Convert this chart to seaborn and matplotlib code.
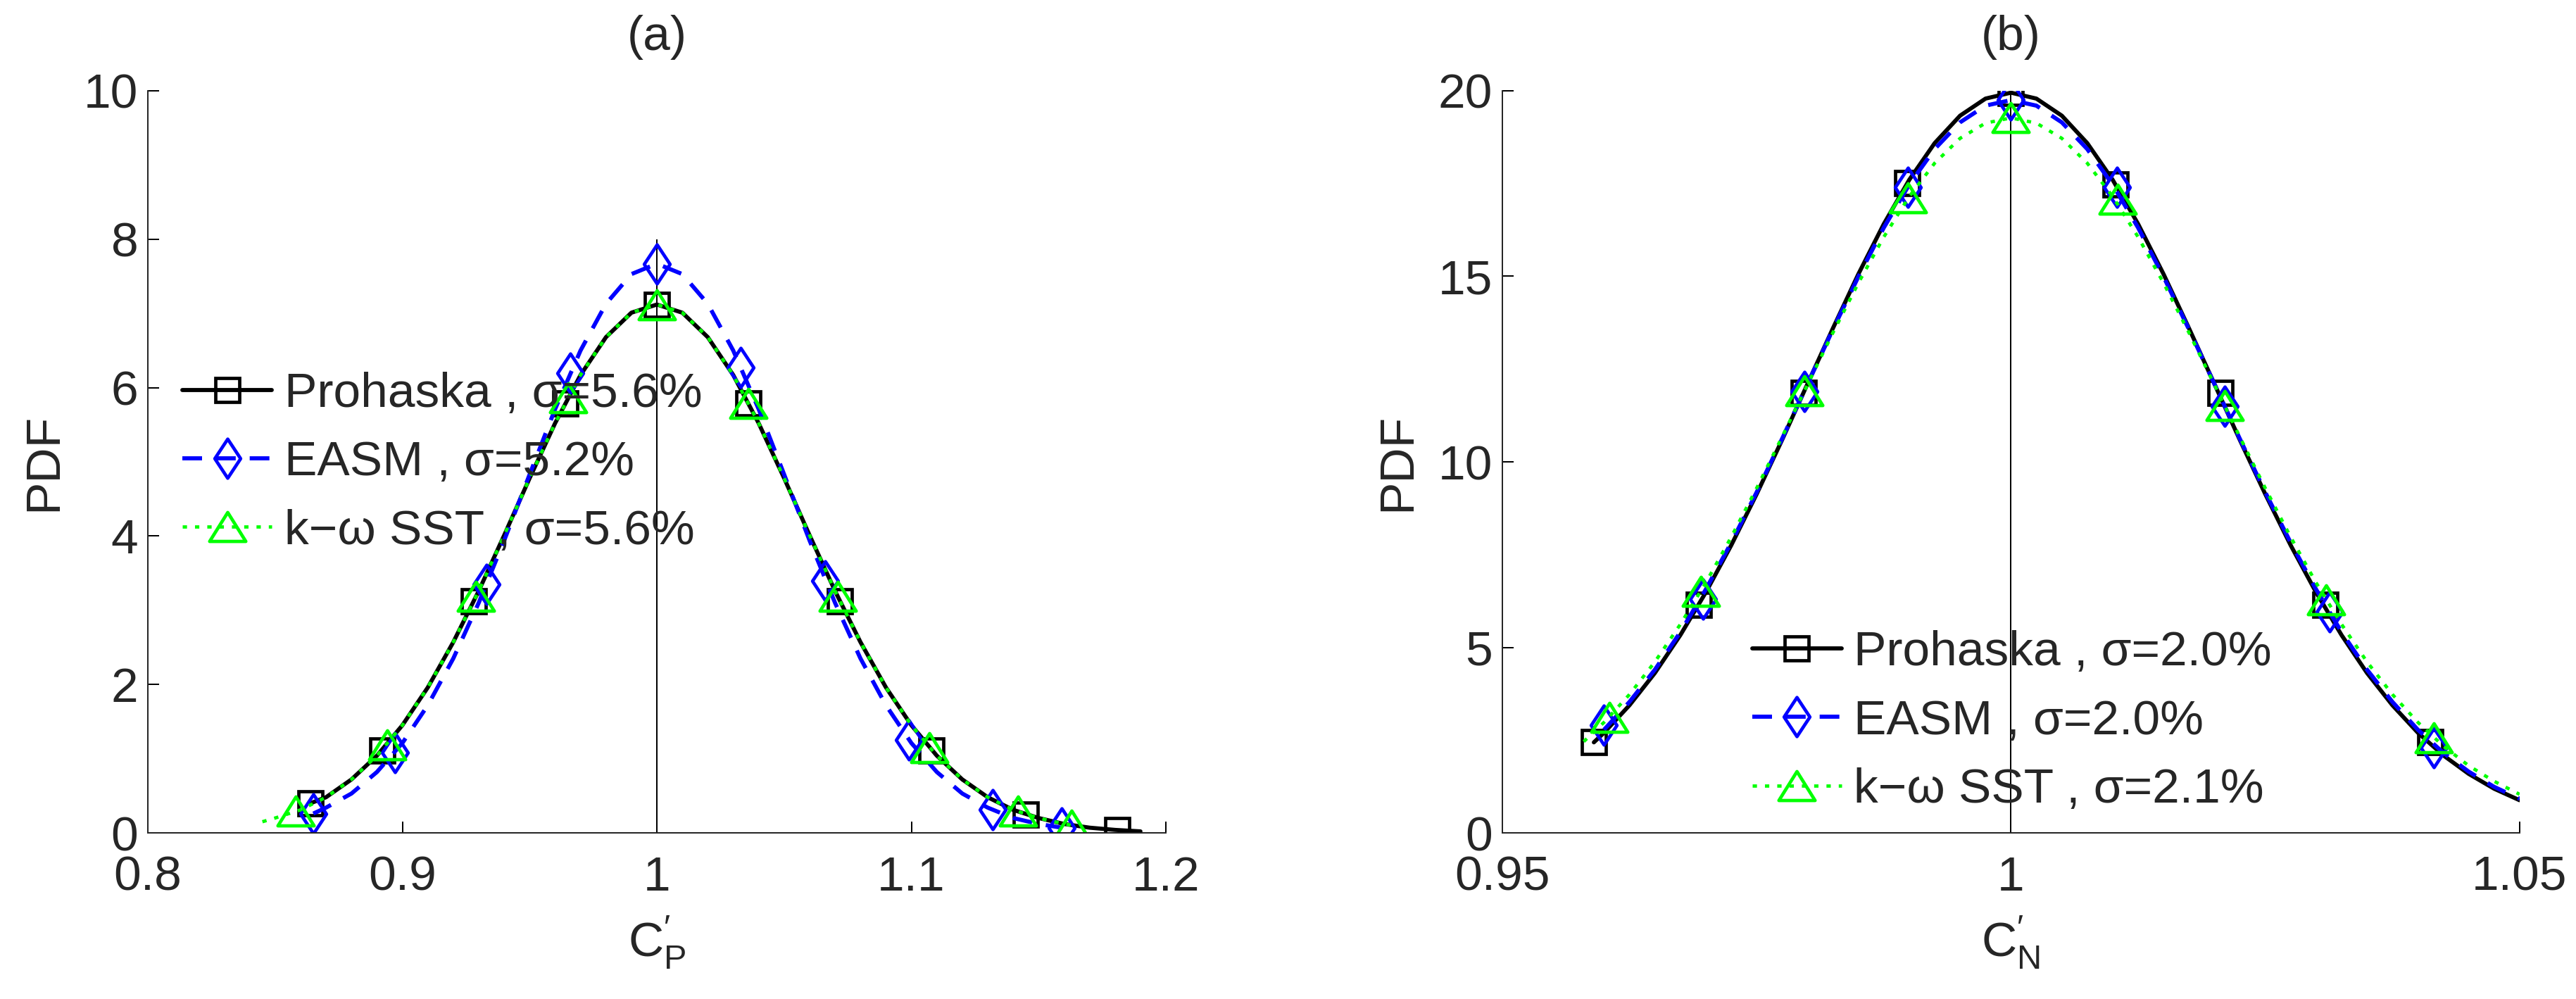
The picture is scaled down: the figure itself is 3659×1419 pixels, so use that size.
import matplotlib
matplotlib.use('Agg')
import matplotlib.pyplot as plt
import seaborn as sns
from matplotlib.path import Path
from matplotlib.lines import Line2D

# ---------------- panel (a): C'_P ----------------
pro_a_x = [0.864, 0.87, 0.88, 0.89, 0.90, 0.91, 0.92, 0.93, 0.94, 0.95, 0.96, 0.97, 0.98, 0.99, 1.00,
           1.01, 1.02, 1.03, 1.04, 1.05, 1.06, 1.07, 1.08, 1.09, 1.10, 1.11, 1.12, 1.13, 1.14, 1.15,
           1.16, 1.17, 1.18, 1.19]
pro_a_y = [0.40, 0.48, 0.72, 1.04, 1.45, 1.96, 2.57, 3.26, 4.01, 4.78, 5.52, 6.17, 6.68, 7.01, 7.12,
           7.01, 6.68, 6.17, 5.52, 4.78, 4.01, 3.26, 2.57, 1.96, 1.45, 1.04, 0.72, 0.48, 0.31, 0.20,
           0.12, 0.07, 0.04, 0.02]
pro_a_mx = [0.864, 0.892, 0.928, 0.964, 1.0, 1.036, 1.072, 1.108, 1.145, 1.181]
pro_a_my = [0.40, 1.11, 3.12, 5.79, 7.12, 5.79, 3.12, 1.11, 0.25, 0.04]

easm_a_x = [0.865, 0.87, 0.88, 0.89, 0.90, 0.91, 0.92, 0.93, 0.94, 0.95, 0.96, 0.97, 0.98, 0.99, 1.00,
            1.01, 1.02, 1.03, 1.04, 1.05, 1.06, 1.07, 1.08, 1.09, 1.10, 1.11, 1.12, 1.13, 1.14, 1.15,
            1.159]
easm_a_y = [0.26, 0.34, 0.53, 0.82, 1.21, 1.72, 2.35, 3.10, 3.94, 4.83, 5.71, 6.50, 7.13, 7.53, 7.67,
            7.53, 7.13, 6.50, 5.71, 4.83, 3.94, 3.10, 2.35, 1.72, 1.21, 0.82, 0.53, 0.34, 0.20, 0.12,
            0.07]
easm_a_mx = [0.865, 0.897, 0.933, 0.966, 1.0, 1.033, 1.066, 1.099, 1.132, 1.159]
easm_a_my = [0.26, 1.08, 3.35, 6.20, 7.67, 6.27, 3.40, 1.25, 0.31, 0.07]

sst_a_x = [0.845, 0.85, 0.86, 0.87, 0.88, 0.89, 0.90, 0.91, 0.92, 0.93, 0.94, 0.95, 0.96, 0.97, 0.98,
           0.99, 1.00, 1.01, 1.02, 1.03, 1.04, 1.05, 1.06, 1.07, 1.08, 1.09, 1.10, 1.11, 1.12, 1.13,
           1.14, 1.15, 1.16, 1.165]
sst_a_y = [0.15, 0.20, 0.31, 0.48, 0.72, 1.04, 1.45, 1.96, 2.57, 3.26, 4.01, 4.78, 5.52, 6.17, 6.68,
           7.01, 7.12, 7.01, 6.68, 6.17, 5.52, 4.78, 4.01, 3.26, 2.57, 1.96, 1.45, 1.04, 0.72, 0.48,
           0.31, 0.20, 0.12, 0.09]
sst_a_mx = [0.858, 0.894, 0.929, 0.965, 1.0, 1.036, 1.071, 1.107, 1.142, 1.163]
sst_a_my = [0.29, 1.19, 3.19, 5.86, 7.12, 5.79, 3.19, 1.15, 0.29, 0.10]

labels_a = ['Prohaska , σ=5.6%', 'EASM , σ=5.2%', 'k−ω SST , σ=5.6%']

# ---------------- panel (b): C'_N ----------------
pro_b_x = [0.959, 0.96, 0.9625, 0.965, 0.9675, 0.97, 0.9725, 0.975, 0.9775, 0.98, 0.9825, 0.985,
           0.9875, 0.99, 0.9925, 0.995, 0.9975, 1.0, 1.0025, 1.005, 1.0075, 1.01, 1.0125, 1.015,
           1.0175, 1.02, 1.0225, 1.025, 1.0275, 1.03, 1.0325, 1.035, 1.0375, 1.04, 1.0425, 1.045,
           1.0475, 1.05]
pro_b_y = [2.44, 2.70, 3.44, 4.31, 5.33, 6.48, 7.75, 9.13, 10.59, 12.10, 13.60, 15.06,
           16.41, 17.60, 18.59, 19.33, 19.79, 19.95, 19.79, 19.33, 18.59, 17.60, 16.41, 15.06,
           13.60, 12.10, 10.59, 9.13, 7.75, 6.48, 5.33, 4.31, 3.44, 2.70, 2.09, 1.59,
           1.19, 0.88]
pro_b_mx = [0.959, 0.9693, 0.9796, 0.9898, 1.0, 1.0103, 1.0206, 1.0309, 1.0412]
pro_b_my = [2.44, 6.14, 11.86, 17.52, 19.95, 17.48, 11.86, 6.14, 2.44]

easm_b_x = [0.96, 0.9625, 0.965, 0.9675, 0.97, 0.9725, 0.975, 0.9775, 0.98, 0.9825, 0.985,
            0.9875, 0.99, 0.9925, 0.995, 0.9975, 1.0, 1.0025, 1.005, 1.0075, 1.01, 1.0125, 1.015,
            1.0175, 1.02, 1.0225, 1.025, 1.0275, 1.03, 1.0325, 1.035, 1.0375, 1.04, 1.0425, 1.045,
            1.0475, 1.05]
easm_b_y = [2.78, 3.53, 4.40, 5.41, 6.56, 7.82, 9.18, 10.62, 12.10, 13.57, 14.99,
            16.31, 17.47, 18.43, 19.15, 19.60, 19.75, 19.60, 19.15, 18.43, 17.47, 16.31, 14.99,
            13.57, 12.10, 10.62, 9.18, 7.82, 6.56, 5.41, 4.40, 3.53, 2.78, 2.16, 1.65,
            1.24, 0.92]
easm_b_mx = [0.96, 0.9697, 0.9797, 0.9899, 1.0, 1.0104, 1.021, 1.0313, 1.0416]
easm_b_my = [2.90, 6.30, 11.90, 17.40, 19.75, 17.40, 11.50, 5.95, 2.30]

sst_b_x = [0.958, 0.96, 0.9625, 0.965, 0.9675, 0.97, 0.9725, 0.975, 0.9775, 0.98, 0.9825, 0.985,
           0.9875, 0.99, 0.9925, 0.995, 0.9975, 1.0, 1.0025, 1.005, 1.0075, 1.01, 1.0125, 1.015,
           1.0175, 1.02, 1.0225, 1.025, 1.0275, 1.03, 1.0325, 1.035, 1.0375, 1.04, 1.0425, 1.045,
           1.0475, 1.05]
sst_b_y = [2.46, 2.98, 3.73, 4.61, 5.62, 6.74, 7.97, 9.29, 10.67, 12.08, 13.48, 14.82,
           16.06, 17.15, 18.05, 18.72, 19.13, 19.27, 19.13, 18.72, 18.05, 17.15, 16.06, 14.82,
           13.48, 12.08, 10.67, 9.29, 7.97, 6.74, 5.62, 4.61, 3.73, 2.98, 2.34, 1.81,
           1.39, 1.04]
sst_b_mx = [0.9605, 0.9695, 0.9797, 0.9899, 1.0, 1.0105, 1.021, 1.031, 1.0416]
sst_b_my = [3.12, 6.51, 11.91, 17.11, 19.27, 17.07, 11.52, 6.28, 2.56]

labels_b = ['Prohaska , σ=2.0%', 'EASM , σ=2.0%', 'k−ω SST , σ=2.1%']

# reference line at the mean
ref_x = 1.0
ref_top_a = 8.0
ref_top_b = 20.0

# ---------------- style ----------------
sns.set_style('ticks')
plt.rcParams['font.family'] = ['Liberation Sans', 'DejaVu Sans']
plt.rcParams['mathtext.fontset'] = 'custom'
plt.rcParams['mathtext.rm'] = 'Liberation Sans'
plt.rcParams['mathtext.it'] = 'Liberation Sans'
plt.rcParams['axes.linewidth'] = 1.44
FS = 50

diamond = Path([(0, 1), (0.66, 0), (0, -1), (-0.66, 0), (0, 1)],
               [Path.MOVETO, Path.LINETO, Path.LINETO, Path.LINETO, Path.CLOSEPOLY])
triangle = Path([(-1, -0.8), (1, -0.8), (0, 0.8), (-1, -0.8)],
                [Path.MOVETO, Path.LINETO, Path.LINETO, Path.CLOSEPOLY])

styles = [
    dict(color='black', ls='-', lw=4.2, marker='s', ms=25),
    dict(color='blue', ls=(0, (4.8, 3.4)), lw=4.2, marker=diamond, ms=40),
    dict(color='#00ff00', ls=(0, (1.3, 2.4)), lw=3.4, marker=triangle, ms=37),
]
MEW = 3.4


def draw(ax, x, y, mx, my, st):
    sns.lineplot(x=x, y=y, ax=ax, color=st['color'], linestyle=st['ls'], linewidth=st['lw'],
                 sort=False, errorbar=None, estimator=None, legend=False)
    sns.lineplot(x=mx, y=my, ax=ax, color=st['color'], linestyle='none', marker=st['marker'],
                 markersize=st['ms'], markerfacecolor='none', markeredgecolor=st['color'],
                 markeredgewidth=MEW, sort=False, errorbar=None, estimator=None, legend=False)


def handles():
    return [Line2D([], [], color=st['color'], linestyle=st['ls'], linewidth=st['lw'],
                   marker=st['marker'], markersize=st['ms'], markerfacecolor='none',
                   markeredgecolor=st['color'], markeredgewidth=MEW) for st in styles]


def style_axes(ax, xlim, ylim, xticks, yticks, xticklabels, title, xlabel):
    ax.set_xlim(*xlim)
    ax.set_ylim(*ylim)
    ax.set_xticks(xticks)
    ax.set_xticklabels(xticklabels)
    ax.set_yticks(yticks)
    for s in ['top', 'right']:
        ax.spines[s].set_visible(False)
    ax.tick_params(direction='in', length=11.5, width=1.44, labelsize=FS, color='black')
    ax.tick_params(axis='x', pad=23)
    ax.tick_params(axis='y', pad=10)
    ax.set_title(title, fontsize=FS, pad=42)
    ax.set_xlabel(xlabel, fontsize=FS, labelpad=14)
    ax.set_ylabel('PDF', fontsize=FS, labelpad=18)


fig = plt.figure(figsize=(36.59, 14.19), dpi=100)
ax_a = fig.add_axes([0.0574, 0.1663, 0.3952, 0.7428])
ax_b = fig.add_axes([0.5832, 0.1663, 0.3949, 0.7428])

# panel (a)
ax_a.vlines(ref_x, 0, ref_top_a, color='black', linewidth=1.44)
draw(ax_a, pro_a_x, pro_a_y, pro_a_mx, pro_a_my, styles[0])
draw(ax_a, easm_a_x, easm_a_y, easm_a_mx, easm_a_my, styles[1])
draw(ax_a, sst_a_x, sst_a_y, sst_a_mx, sst_a_my, styles[2])
style_axes(ax_a, (0.8, 1.2), (0, 10), [0.8, 0.9, 1.0, 1.1, 1.2], [0, 2, 4, 6, 8, 10],
           ['0.8', '0.9', '1', '1.1', '1.2'], '(a)',
           r"$\mathregular{C}^{\prime}_{\mathregular{P}}$")
ax_a.legend(handles(), labels_a, loc='upper left', bbox_to_anchor=(0.0708, 0.628),
            bbox_transform=fig.transFigure, frameon=False, fontsize=FS, borderpad=0,
            borderaxespad=0, handlelength=1.83, handletextpad=0.25, labelspacing=0.48)

# panel (b)
ax_b.vlines(ref_x, 0, ref_top_b, color='black', linewidth=1.44)
draw(ax_b, pro_b_x, pro_b_y, pro_b_mx, pro_b_my, styles[0])
draw(ax_b, easm_b_x, easm_b_y, easm_b_mx, easm_b_my, styles[1])
draw(ax_b, sst_b_x, sst_b_y, sst_b_mx, sst_b_my, styles[2])
style_axes(ax_b, (0.95, 1.05), (0, 20), [0.95, 1.0, 1.05], [0, 5, 10, 15, 20],
           ['0.95', '1', '1.05'], '(b)',
           r"$\mathregular{C}^{\prime}_{\mathregular{N}}$")
ax_b.legend(handles(), labels_b, loc='upper left', bbox_to_anchor=(0.6802, 0.369),
            bbox_transform=fig.transFigure, frameon=False, fontsize=FS, borderpad=0,
            borderaxespad=0, handlelength=1.83, handletextpad=0.25, labelspacing=0.48)

fig.savefig('out.png', dpi=100)
